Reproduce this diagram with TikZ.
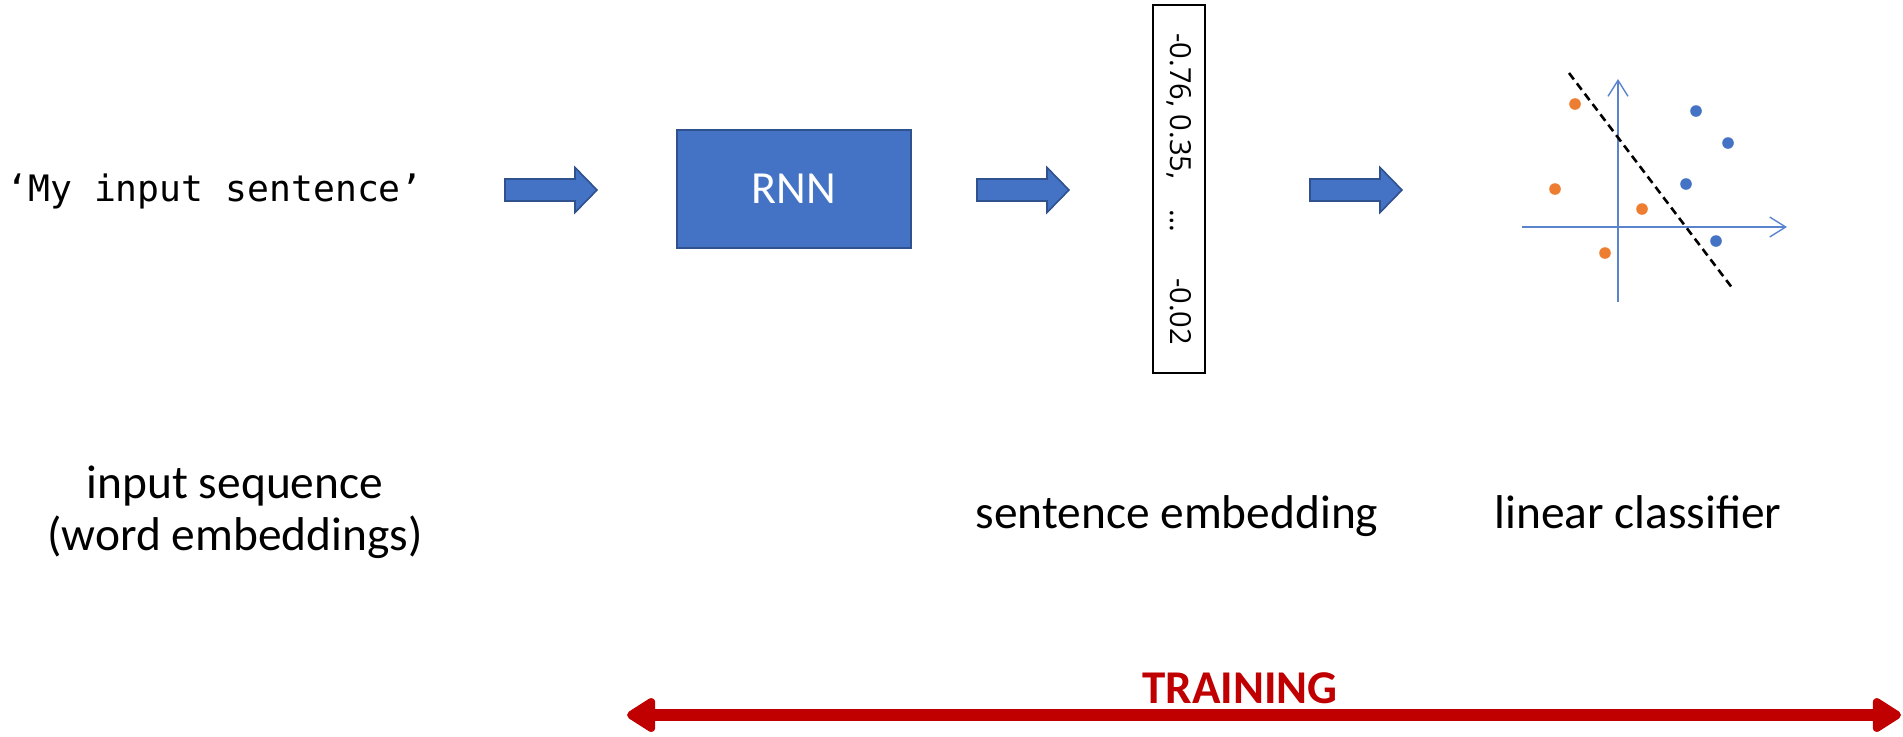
\documentclass[tikz,border=0pt]{standalone}
\usepackage{fontspec}
\setmainfont{Carlito}
\newfontfamily\monofont{DejaVu Sans Mono}
\newfontfamily\vecfont{Open Sans}
\usetikzlibrary{arrows.meta}
\definecolor{pblue}{HTML}{4472C4}
\definecolor{pdblue}{HTML}{2F528F}
\definecolor{porange}{HTML}{ED7D31}
\definecolor{pred}{HTML}{C00000}
\definecolor{paxis}{HTML}{5B84CF}
\begin{document}
\begin{tikzpicture}[x=0.5pt,y=-0.5pt,
  lbl/.style={font=\fontsize{23.7}{26}\selectfont, align=center, inner sep=0pt},
  blockarrow/.style={fill=pblue, draw=pdblue, line width=0.8pt, line join=miter},
  barrow/.pic={\draw[blockarrow] (0,-11) -- (70,-11) -- (70,-22.5) -- (92,0) -- (70,22.5) -- (70,11) -- (0,11) -- cycle;},
  axisline/.style={paxis, line width=0.7pt, -{Straight Barb[length=8pt,width=10pt]}},
  odot/.style={fill=porange},
  bdot/.style={fill=pblue},
  redtip/.style={Triangle[length=16pt,width=19pt,round]}]
\useasboundingbox (0,0) rectangle (1903,736);

% input sentence
\node[anchor=base west, font=\monofont\fontsize{18.2}{20}\selectfont, inner sep=0pt] (sent) at (6,201) {‘My input sentence’};

% block arrows
\pic at (505,190) {barrow};
\pic at (977,190) {barrow};
\pic at (1310,190) {barrow};

% RNN
\node[draw=pdblue, fill=pblue, line width=1pt, minimum width=117pt, minimum height=59pt, inner sep=0pt,
      text=white, font=\fontsize{23}{26}\selectfont] (rnn) at (794,189) {RNN};

% sentence vector
\node[draw=black, line width=1.3pt, minimum width=26pt, minimum height=184pt, inner sep=0pt] (vec) at (1179,189) {};
\node[rotate=-90, font=\vecfont\fontsize{14.5}{16}\selectfont, inner sep=0pt, anchor=west] (vectxt) at (1179,33)
  {-0.76, 0.35,\hspace{15pt}…\hspace{23pt}-0.02};

% classifier
\draw[axisline] (1618,302) -- (1618,79);
\draw[axisline] (1522,227) -- (1787,227);
\draw[black, line width=1.3pt, dash pattern=on 4pt off 2.5pt] (1569,73) -- (1733,289);
\fill[odot] (1575,104) circle (2.9pt);
\fill[odot] (1555,189) circle (2.9pt);
\fill[odot] (1642,209) circle (2.9pt);
\fill[odot] (1605,253) circle (2.9pt);
\fill[bdot] (1696,111) circle (2.9pt);
\fill[bdot] (1728,143) circle (2.9pt);
\fill[bdot] (1686,184) circle (2.9pt);
\fill[bdot] (1716,241) circle (2.9pt);

% labels
\node[lbl, anchor=base] (lin) at (235,550) {input sequence\\(word embeddings)};
\node[lbl, anchor=base] (lsent) at (1177,528) {sentence embedding};
\node[lbl, anchor=base] (lclass) at (1638,528) {linear classifier};

% training
\node[font=\bfseries\fontsize{23.5}{26}\selectfont, text=pred, anchor=base, inner sep=0pt] (train) at (1240,703) {TRAINING};
\coordinate (tl) at (627,715);
\coordinate (tr) at (1901,715);
\draw[pred, line width=6pt, {Triangle[length=16pt,width=19pt,round]}-{Triangle[length=16pt,width=19pt,round]}] (tl) -- (tr);
\end{tikzpicture}
\end{document}
